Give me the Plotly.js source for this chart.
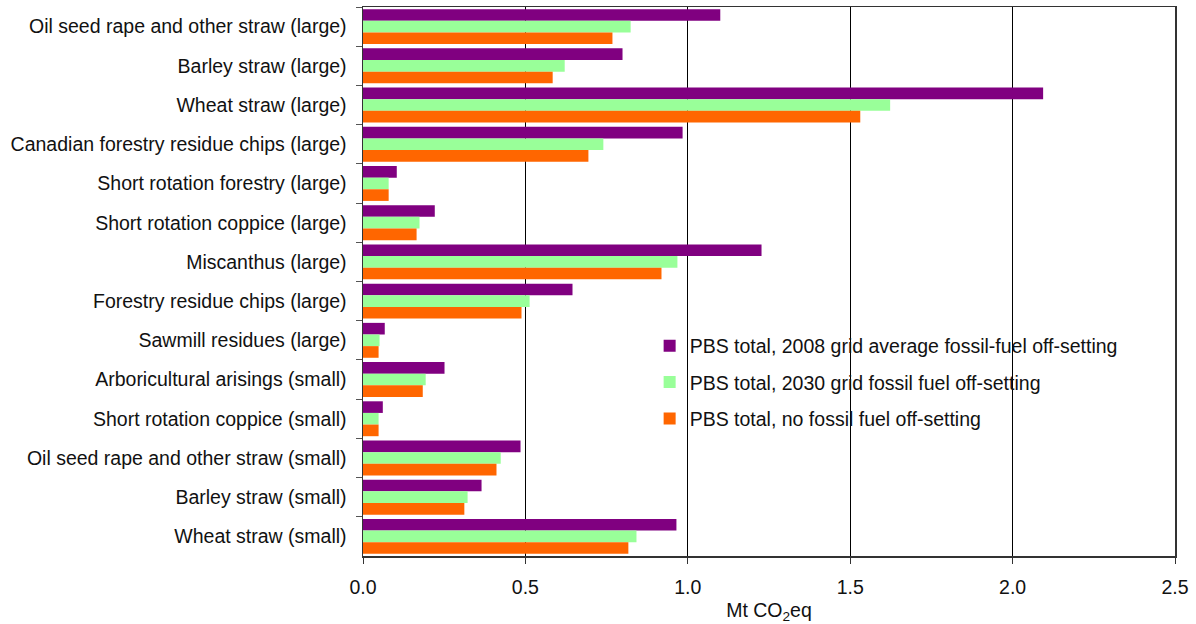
<!DOCTYPE html>
<html>
<head>
<meta charset="utf-8">
<script src="https://cdn.plot.ly/plotly-3.0.1.min.js"></script>
<style>html,body{margin:0;padding:0;background:#fff;}#chart{width:1196px;height:624px;}</style>
</head>
<body>
<div id="chart"></div>
<script>
const categories = [
  "Oil seed rape and other straw (large)",
  "Barley straw (large)",
  "Wheat straw (large)",
  "Canadian forestry residue chips (large)",
  "Short rotation forestry (large)",
  "Short rotation coppice (large)",
  "Miscanthus (large)",
  "Forestry residue chips (large)",
  "Sawmill residues (large)",
  "Arboricultural arisings (small)",
  "Short rotation coppice (small)",
  "Oil seed rape and other straw (small)",
  "Barley straw (small)",
  "Wheat straw (small)"
];
const grid2008 = [1.100, 0.799, 2.094, 0.984, 0.104, 0.221, 1.227, 0.645, 0.067, 0.251, 0.061, 0.485, 0.365, 0.965];
const grid2030 = [0.824, 0.621, 1.623, 0.740, 0.079, 0.174, 0.968, 0.513, 0.051, 0.193, 0.048, 0.424, 0.322, 0.842];
const noOffset = [0.768, 0.584, 1.531, 0.694, 0.079, 0.165, 0.919, 0.488, 0.048, 0.184, 0.048, 0.411, 0.312, 0.817];
const seriesNames = [
  "PBS total, 2008 grid average fossil-fuel off-setting",
  "PBS total, 2030 grid fossil fuel off-setting",
  "PBS total, no fossil fuel off-setting"
];
const xTickVals = [0, 0.5, 1.0, 1.5, 2.0, 2.5];
const xTickText = ["0.0", "0.5", "1.0", "1.5", "2.0", "2.5"];

const colors = ["#800080", "#99FF99", "#FF6600"];
const seriesVals = [grid2008, grid2030, noOffset];
const traces = seriesVals.map((vals, i) => ({
  type: "bar",
  orientation: "h",
  y: categories,
  x: vals,
  name: seriesNames[i],
  legendgroup: "g" + i,
  marker: {color: colors[i], line: {width: 0}},
  hoverinfo: "x+name"
}));

const fam = "Liberation Sans, Arial, sans-serif";
const fs = 19.5;
const layout = {
  width: 1196,
  height: 624,
  margin: {l: 363, r: 21, t: 7, b: 68},
  paper_bgcolor: "#fff",
  plot_bgcolor: "#fff",
  font: {family: fam, size: fs, color: "#111"},
  barmode: "group",
  bargap: 0.11,
  bargroupgap: 0,
  showlegend: true,
  legend: {
    x: 0.353, y: 0.418, xanchor: "left", yanchor: "top",
    bgcolor: "rgba(255,255,255,0)",
    font: {family: fam, size: fs, color: "#111"},
    traceorder: "grouped",
    tracegroupgap: 8,
    itemwidth: 30
  },
  xaxis: {
    range: [0, 2.5],
    tickvals: xTickVals,
    ticktext: xTickText,
    showgrid: true,
    gridcolor: "#000",
    gridwidth: 1,
    zeroline: false,
    showline: true,
    linecolor: "#333",
    linewidth: 1.5,
    mirror: true,
    ticks: "outside",
    ticklen: 6,
    tickcolor: "#333",
    ticklabelstandoff: 7,
    tickfont: {family: fam, size: fs, color: "#111"},
    title: {text: "Mt CO<sub>2</sub>eq", font: {family: fam, size: fs, color: "#111"}, standoff: 9},
    fixedrange: true
  },
  yaxis: {
    type: "category",
    autorange: "reversed",
    showgrid: false,
    zeroline: false,
    showline: true,
    linecolor: "#333",
    linewidth: 1.5,
    mirror: true,
    ticks: "outside",
    ticklen: 6,
    tickcolor: "#555",
    tickson: "boundaries",
    ticklabelstandoff: 11,
    tickfont: {family: fam, size: fs, color: "#111"},
    fixedrange: true
  }
};
Plotly.newPlot("chart", traces, layout, {displayModeBar: false, staticPlot: true});
</script>
</body>
</html>
